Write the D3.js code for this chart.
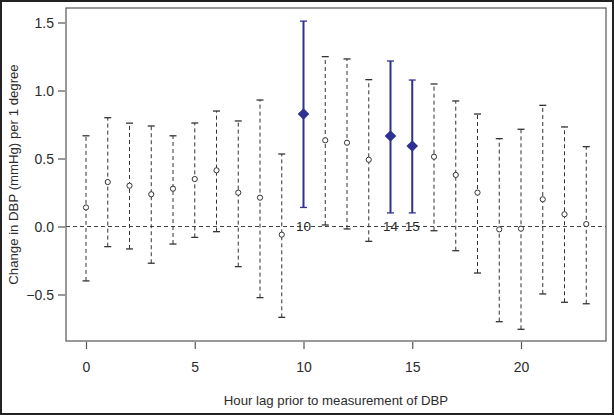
<!DOCTYPE html>
<html><head><meta charset="utf-8">
<script src="https://cdn.jsdelivr.net/npm/d3@7"></script>
<style>
html,body{margin:0;padding:0;background:#fff;}
svg{display:block;}
text{font-family:"Liberation Sans",Arial,Helvetica,sans-serif;fill:#2b2b2b;}
</style></head>
<body>
<svg id="chart" width="614" height="415"></svg>
<script>
const lags = [0,1,2,3,4,5,6,7,8,9,10,11,12,13,14,15,16,17,18,19,20,21,22,23];
const estimate = [0.14,0.327,0.30,0.237,0.278,0.349,0.413,0.249,0.212,-0.06,0.827,0.634,0.616,0.491,0.665,0.592,0.513,0.379,0.249,-0.021,-0.016,0.20,0.09,0.018];
const upper = [0.667,0.80,0.76,0.739,0.667,0.761,0.849,0.776,0.93,0.533,1.51,1.249,1.232,1.08,1.217,1.077,1.048,0.923,0.827,0.646,0.715,0.891,0.732,0.587];
const lower = [-0.40,-0.148,-0.165,-0.27,-0.129,-0.08,-0.038,-0.295,-0.523,-0.668,0.14,0.011,-0.018,-0.109,0.10,0.10,-0.031,-0.178,-0.342,-0.70,-0.756,-0.496,-0.557,-0.568];
const significant = [10,14,15];
const xTicks = [0,5,10,15,20];
const yTicks = [-0.5,0.0,0.5,1.0,1.5];
const xTitle = "Hour lag prior to measurement of DBP";
const yTitle = "Change in DBP (mmHg) per 1 degree";

const svg = d3.select("#chart");
const W = 614, H = 415;
const box = {left:66, right:606, top:8, bottom:341};

// outer frame
svg.append("rect").attr("x",1).attr("y",1).attr("width",W-2).attr("height",H-2)
  .attr("fill","none").attr("stroke","#222").attr("stroke-width",2);

const x = d3.scaleLinear().domain([0,10]).range([86,303.5]);
const y = d3.scaleLinear().domain([0,1.5]).range([226.5,22.5]);

// plot box
svg.append("rect").attr("x",box.left).attr("y",box.top)
  .attr("width",box.right-box.left).attr("height",box.bottom-box.top)
  .attr("fill","none").attr("stroke","#555").attr("stroke-width",1.2);

// axes
const yAxis = d3.axisLeft(y).tickValues(yTicks).tickFormat(d3.format(".1f")).tickSize(7).tickPadding(4);
const gy = svg.append("g").attr("transform",`translate(${box.left-1},0)`).call(yAxis);
gy.select(".domain").remove();
gy.selectAll("line").attr("stroke","#555").attr("stroke-width",1.2);
gy.selectAll("text").attr("font-size","14px").attr("fill","#2b2b2b").attr("dy","0.35em")
  .style("font-family","'Liberation Sans',Arial,sans-serif");

const xAxis = d3.axisBottom(x).tickValues(xTicks).tickFormat(d3.format("d")).tickSize(7).tickPadding(13);
const gx = svg.append("g").attr("transform",`translate(0,${box.bottom+1})`).call(xAxis);
gx.select(".domain").remove();
gx.selectAll("line").attr("stroke","#555").attr("stroke-width",1.2);
gx.selectAll("text").attr("font-size","14px").attr("fill","#2b2b2b")
  .style("font-family","'Liberation Sans',Arial,sans-serif");

// titles
svg.append("text").attr("x",(box.left+box.right)/2).attr("y",405)
  .attr("text-anchor","middle").attr("font-size","13.2px").text(xTitle);
svg.append("text").attr("transform",`translate(18,${(box.top+box.bottom)/2}) rotate(-90)`)
  .attr("text-anchor","middle").attr("font-size","13.2px").text(yTitle);

// zero reference line
svg.append("line").attr("x1",box.left).attr("x2",box.right).attr("y1",y(0)).attr("y2",y(0))
  .attr("stroke","#444").attr("stroke-width",1).attr("stroke-dasharray","4,3");

const data = lags.map((l,i)=>({lag:l, est:estimate[i], lo:lower[i], hi:upper[i], sig:significant.includes(l)}));
const blue = "#2e3192";
const capW = 3.5;

const g = svg.append("g");
const ns = data.filter(d=>!d.sig), sg = data.filter(d=>d.sig);

// non-significant: dashed black
g.selectAll(".nsl").data(ns).join("line")
  .attr("x1",d=>x(d.lag)).attr("x2",d=>x(d.lag)).attr("y1",d=>y(d.lo)).attr("y2",d=>y(d.hi))
  .attr("stroke","#333").attr("stroke-width",1).attr("stroke-dasharray","4,3");
["lo","hi"].forEach(k=>{
  g.selectAll(".nsc"+k).data(ns).join("line")
    .attr("x1",d=>x(d.lag)-capW).attr("x2",d=>x(d.lag)+capW).attr("y1",d=>y(d[k])).attr("y2",d=>y(d[k]))
    .attr("stroke","#333").attr("stroke-width",1.3);
});
g.selectAll(".nsp").data(ns).join("circle")
  .attr("cx",d=>x(d.lag)).attr("cy",d=>y(d.est)).attr("r",2.6)
  .attr("fill","#fff").attr("stroke","#333").attr("stroke-width",1);

// significant: solid blue
g.selectAll(".sl").data(sg).join("line")
  .attr("x1",d=>x(d.lag)).attr("x2",d=>x(d.lag)).attr("y1",d=>y(d.lo)).attr("y2",d=>y(d.hi))
  .attr("stroke",blue).attr("stroke-width",2);
["lo","hi"].forEach(k=>{
  g.selectAll(".sc"+k).data(sg).join("line")
    .attr("x1",d=>x(d.lag)-capW).attr("x2",d=>x(d.lag)+capW).attr("y1",d=>y(d[k])).attr("y2",d=>y(d[k]))
    .attr("stroke",blue).attr("stroke-width",1.3);
});
g.selectAll(".sp").data(sg).join("path")
  .attr("d",d=>{const cx=x(d.lag), cy=y(d.est), r=5.8; return `M${cx},${cy-r}L${cx+r},${cy}L${cx},${cy+r}L${cx-r},${cy}Z`;})
  .attr("fill",blue);

// lag labels on zero line
g.selectAll(".lab").data(sg).join("text")
  .attr("x",d=>x(d.lag)).attr("y",y(0)).attr("dy","0.36em")
  .attr("text-anchor","middle").attr("font-size","13.5px").text(d=>d.lag);
</script>
</body></html>
